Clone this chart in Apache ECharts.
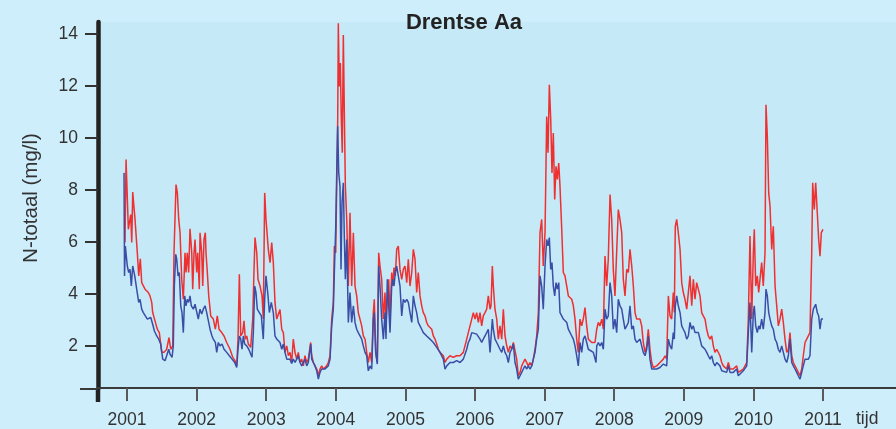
<!DOCTYPE html>
<html>
<head>
<meta charset="utf-8">
<script src="https://cdn.jsdelivr.net/npm/echarts@6.0.0/dist/echarts.min.js"></script>
<style>
  html, body { margin: 0; padding: 0; background: #ceeefb; }
  #chart { width: 896px; height: 429px; }
</style>
</head>
<body>
<div id="chart"></div>
<script>
// N-totaal (mg/l), Drentse Aa, time as decimal year
const yearTicks = [2001, 2002, 2003, 2004, 2005, 2006, 2007, 2008, 2009, 2010, 2011];
const valueTicks = [2, 4, 6, 8, 10, 12, 14];

// red series
const redYears = [
  2000.971, 2000.986, 2001.019, 2001.053, 2001.068, 2001.082, 2001.115, 2001.148, 2001.168, 2001.191,
  2001.211, 2001.234, 2001.259, 2001.306, 2001.330, 2001.355, 2001.369, 2001.402, 2001.435, 2001.464,
  2001.499, 2001.532, 2001.570, 2001.603, 2001.628, 2001.657, 2001.675, 2001.704, 2001.723, 2001.743,
  2001.762, 2001.786, 2001.809, 2001.833, 2001.848, 2001.866, 2001.886, 2001.905, 2001.930, 2001.944,
  2001.963, 2001.977, 2002.001, 2002.016, 2002.039, 2002.049, 2002.073, 2002.088, 2002.106, 2002.125,
  2002.135, 2002.154, 2002.174, 2002.203, 2002.240, 2002.269, 2002.297, 2002.322, 2002.361, 2002.394,
  2002.432, 2002.480, 2002.519, 2002.552, 2002.576, 2002.595, 2002.614, 2002.634, 2002.662, 2002.681,
  2002.700, 2002.720, 2002.743, 2002.777, 2002.806, 2002.825, 2002.839, 2002.864, 2002.882, 2002.911,
  2002.940, 2002.958, 2002.978, 2002.997, 2003.030, 2003.055, 2003.079, 2003.102, 2003.126, 2003.151,
  2003.198, 2003.223, 2003.246, 2003.270, 2003.295, 2003.318, 2003.342, 2003.366, 2003.389, 2003.414,
  2003.438, 2003.461, 2003.486, 2003.510, 2003.533, 2003.557, 2003.582, 2003.605, 2003.639, 2003.654,
  2003.677, 2003.701, 2003.726, 2003.749, 2003.773, 2003.797, 2003.820, 2003.845, 2003.869, 2003.892,
  2003.917, 2003.941, 2003.964, 2003.979, 2003.999, 2004.013, 2004.027, 2004.036, 2004.050, 2004.065,
  2004.079, 2004.093, 2004.108, 2004.122, 2004.137, 2004.157, 2004.180, 2004.204, 2004.228, 2004.252,
  2004.276, 2004.300, 2004.323, 2004.348, 2004.372, 2004.395, 2004.420, 2004.444, 2004.467, 2004.491,
  2004.516, 2004.539, 2004.553, 2004.573, 2004.596, 2004.616, 2004.635, 2004.659, 2004.683, 2004.707,
  2004.721, 2004.740, 2004.760, 2004.779, 2004.803, 2004.818, 2004.836, 2004.855, 2004.875, 2004.898,
  2004.922, 2004.947, 2004.970, 2004.994, 2005.019, 2005.042, 2005.066, 2005.091, 2005.114, 2005.138,
  2005.162, 2005.185, 2005.210, 2005.234, 2005.257, 2005.282, 2005.306, 2005.329, 2005.353, 2005.378,
  2005.401, 2005.425, 2005.450, 2005.473, 2005.497, 2005.522, 2005.545, 2005.569, 2005.594, 2005.641,
  2005.688, 2005.737, 2005.785, 2005.832, 2005.881, 2005.904, 2005.928, 2005.953, 2005.976, 2006.000,
  2006.024, 2006.048, 2006.072, 2006.096, 2006.119, 2006.144, 2006.168, 2006.191, 2006.216, 2006.230,
  2006.249, 2006.263, 2006.287, 2006.312, 2006.335, 2006.359, 2006.384, 2006.407, 2006.431, 2006.456,
  2006.479, 2006.503, 2006.527, 2006.551, 2006.575, 2006.599, 2006.622, 2006.647, 2006.671, 2006.694,
  2006.718, 2006.743, 2006.766, 2006.790, 2006.815, 2006.838, 2006.862, 2006.886, 2006.910, 2006.934,
  2006.958, 2006.981, 2007.006, 2007.030, 2007.049, 2007.068, 2007.088, 2007.106, 2007.125, 2007.145,
  2007.164, 2007.183, 2007.203, 2007.221, 2007.246, 2007.269, 2007.293, 2007.318, 2007.341, 2007.365,
  2007.390, 2007.413, 2007.437, 2007.461, 2007.484, 2007.509, 2007.533, 2007.556, 2007.580, 2007.605,
  2007.628, 2007.652, 2007.677, 2007.700, 2007.724, 2007.749, 2007.772, 2007.796, 2007.821, 2007.844,
  2007.868, 2007.892, 2007.915, 2007.940, 2007.964, 2007.987, 2008.011, 2008.036, 2008.059, 2008.083,
  2008.108, 2008.131, 2008.155, 2008.180, 2008.203, 2008.227, 2008.252, 2008.275, 2008.299, 2008.323,
  2008.371, 2008.395, 2008.418, 2008.443, 2008.467, 2008.490, 2008.514, 2008.539, 2008.562, 2008.611,
  2008.658, 2008.706, 2008.730, 2008.754, 2008.778, 2008.802, 2008.826, 2008.849, 2008.864, 2008.878,
  2008.898, 2008.921, 2008.946, 2008.970, 2008.993, 2009.017, 2009.042, 2009.065, 2009.089, 2009.114,
  2009.137, 2009.161, 2009.185, 2009.209, 2009.233, 2009.257, 2009.280, 2009.305, 2009.329, 2009.352,
  2009.377, 2009.401, 2009.424, 2009.448, 2009.473, 2009.496, 2009.520, 2009.545, 2009.568, 2009.616,
  2009.640, 2009.664, 2009.711, 2009.760, 2009.783, 2009.807, 2009.855, 2009.904, 2009.927, 2009.951,
  2009.976, 2009.999, 2010.013, 2010.033, 2010.056, 2010.076, 2010.095, 2010.119, 2010.142, 2010.167,
  2010.181, 2010.200, 2010.220, 2010.239, 2010.263, 2010.286, 2010.311, 2010.335, 2010.358, 2010.382,
  2010.407, 2010.430, 2010.454, 2010.479, 2010.502, 2010.526, 2010.551, 2010.574, 2010.598, 2010.622,
  2010.645, 2010.670, 2010.694, 2010.717, 2010.742, 2010.766, 2010.789, 2010.813, 2010.838, 2010.852,
  2010.875, 2010.895, 2010.918, 2010.938, 2010.957, 2010.976, 2011.000
];
const redValues = [
  5.97, 9.16, 6.48, 7.05, 5.97, 7.91, 6.86, 5.58, 4.69, 5.35,
  4.43, 4.43, 4.18, 4.05, 3.92, 3.67, 3.28, 2.96, 2.64, 2.51,
  1.75, 1.75, 1.87, 2.32, 1.87, 2.00, 5.58, 8.20, 7.88, 6.86,
  6.35, 4.56, 3.79, 5.58, 4.82, 5.58, 4.82, 6.50, 5.58, 4.18,
  5.58, 6.09, 4.82, 5.58, 4.18, 6.35, 5.58, 4.30, 6.09, 6.35,
  5.58, 4.82, 3.92, 3.15, 3.03, 2.64, 3.15, 2.64, 2.51, 2.38,
  2.13, 1.87, 1.56, 1.43, 1.23, 2.26, 4.75, 2.38, 2.51, 2.96,
  2.26, 2.38, 2.07, 1.94, 3.03, 4.94, 6.16, 5.58, 4.56, 4.30,
  3.92, 3.03, 7.88, 6.86, 5.71, 5.20, 5.97, 5.20, 3.67, 3.03,
  3.40, 2.64, 2.51, 1.75, 2.00, 1.62, 1.75, 1.36, 2.26, 1.75,
  1.49, 1.75, 1.36, 1.49, 1.23, 1.62, 1.36, 1.49, 2.13, 1.62,
  1.36, 1.23, 1.11, 0.85, 1.11, 1.23, 1.11, 1.17, 1.23, 1.36,
  1.62, 3.03, 3.67, 5.84, 5.58, 8.14, 10.69, 14.40, 11.97, 12.87,
  10.69, 9.42, 13.95, 11.08, 8.14, 6.86, 4.30, 7.12, 4.30, 6.35,
  4.30, 3.92, 3.28, 3.28, 2.77, 2.38, 2.26, 1.75, 1.36, 1.75,
  1.36, 3.28, 3.79, 1.75, 1.36, 5.58, 5.07, 4.56, 3.03, 4.05,
  2.77, 3.79, 4.56, 3.03, 4.82, 4.30, 5.01, 4.69, 5.71, 5.84,
  4.94, 4.56, 4.94, 5.07, 4.43, 5.33, 4.30, 4.82, 5.71, 5.33,
  4.05, 4.82, 3.92, 3.54, 3.28, 3.15, 2.90, 2.77, 2.77, 2.64,
  2.38, 2.26, 2.07, 1.87, 1.75, 1.75, 1.62, 1.36, 1.49, 1.62,
  1.56, 1.62, 1.62, 1.75, 2.26, 2.51, 2.51, 3.03, 3.28, 3.03,
  3.28, 2.90, 3.28, 2.77, 3.15, 3.28, 3.41, 3.92, 3.41, 3.54,
  5.07, 4.30, 3.41, 3.03, 2.26, 2.77, 2.26, 3.41, 2.38, 2.00,
  1.75, 2.00, 1.87, 2.13, 2.13, 1.49, 0.85, 0.98, 1.23, 1.36,
  1.49, 1.49, 1.23, 1.36, 1.23, 1.49, 1.87, 2.38, 3.28, 6.35,
  6.86, 5.07, 6.35, 10.82, 9.42, 12.04, 10.69, 8.65, 10.18, 7.63,
  8.90, 8.40, 9.03, 8.14, 6.48, 4.82, 4.69, 4.30, 3.92, 3.92,
  3.79, 3.54, 3.03, 2.26, 1.75, 3.03, 2.77, 3.03, 3.47, 2.77,
  2.26, 2.26, 2.13, 2.13, 2.13, 2.64, 2.90, 2.77, 3.03, 2.64,
  5.45, 4.30, 5.33, 7.82, 6.86, 4.94, 3.92, 3.92, 7.24, 6.86,
  6.35, 4.56, 3.92, 4.94, 4.82, 5.71, 5.07, 4.30, 3.28, 3.03,
  3.03, 2.77, 2.13, 1.75, 2.00, 2.64, 1.87, 1.36, 1.17, 1.23,
  1.36, 1.49, 1.62, 1.49, 3.92, 3.15, 3.03, 4.05, 3.28, 6.60,
  6.86, 6.35, 5.71, 4.43, 4.05, 3.79, 3.41, 3.41, 4.69, 3.54,
  4.56, 3.79, 4.43, 4.43, 3.92, 3.28, 3.15, 3.03, 2.64, 2.38,
  2.26, 2.38, 2.00, 1.75, 1.87, 1.87, 1.62, 1.36, 1.23, 1.11,
  1.36, 1.11, 1.11, 1.23, 0.98, 0.98, 1.11, 1.36, 3.03, 6.22,
  3.03, 5.58, 6.48, 4.30, 4.69, 4.05, 4.56, 5.20, 4.30, 5.58,
  11.27, 10.06, 7.88, 7.37, 5.71, 6.60, 4.30, 3.54, 2.77, 3.03,
  3.41, 2.90, 2.26, 1.75, 1.87, 2.51, 1.62, 1.36, 1.23, 1.11,
  0.98, 0.85, 1.11, 1.62, 2.13, 2.26, 2.26, 2.51, 5.58, 8.27,
  7.24, 8.27, 7.12, 6.09, 5.45, 6.35, 6.48
];

// blue series
const blueYears = [
  2000.957, 2000.964, 2000.976, 2001.004, 2001.024, 2001.043, 2001.062, 2001.082, 2001.111, 2001.139,
  2001.168, 2001.187, 2001.211, 2001.234, 2001.263, 2001.292, 2001.320, 2001.341, 2001.369, 2001.392,
  2001.427, 2001.455, 2001.484, 2001.513, 2001.546, 2001.570, 2001.599, 2001.618, 2001.647, 2001.665,
  2001.680, 2001.700, 2001.714, 2001.733, 2001.751, 2001.772, 2001.790, 2001.809, 2001.829, 2001.848,
  2001.866, 2001.886, 2001.905, 2001.924, 2001.953, 2001.977, 2002.001, 2002.024, 2002.049, 2002.073,
  2002.096, 2002.121, 2002.145, 2002.164, 2002.193, 2002.221, 2002.240, 2002.269, 2002.289, 2002.312,
  2002.336, 2002.365, 2002.394, 2002.432, 2002.470, 2002.509, 2002.547, 2002.576, 2002.595, 2002.614,
  2002.634, 2002.652, 2002.671, 2002.691, 2002.720, 2002.749, 2002.777, 2002.796, 2002.815, 2002.835,
  2002.853, 2002.872, 2002.901, 2002.930, 2002.958, 2002.978, 2002.997, 2003.026, 2003.045, 2003.073,
  2003.102, 2003.126, 2003.151, 2003.198, 2003.223, 2003.246, 2003.270, 2003.295, 2003.342, 2003.366,
  2003.389, 2003.414, 2003.438, 2003.461, 2003.486, 2003.510, 2003.533, 2003.557, 2003.582, 2003.605,
  2003.639, 2003.654, 2003.677, 2003.701, 2003.726, 2003.749, 2003.773, 2003.797, 2003.820, 2003.845,
  2003.869, 2003.892, 2003.917, 2003.941, 2003.964, 2003.979, 2003.999, 2004.013, 2004.027, 2004.042,
  2004.060, 2004.075, 2004.089, 2004.108, 2004.122, 2004.137, 2004.157, 2004.180, 2004.204, 2004.228,
  2004.252, 2004.276, 2004.300, 2004.323, 2004.348, 2004.372, 2004.395, 2004.420, 2004.444, 2004.467,
  2004.491, 2004.516, 2004.539, 2004.553, 2004.573, 2004.596, 2004.616, 2004.635, 2004.659, 2004.683,
  2004.707, 2004.721, 2004.740, 2004.760, 2004.779, 2004.803, 2004.818, 2004.836, 2004.855, 2004.875,
  2004.898, 2004.922, 2004.947, 2004.970, 2004.994, 2005.019, 2005.042, 2005.066, 2005.091, 2005.114,
  2005.138, 2005.162, 2005.185, 2005.210, 2005.234, 2005.257, 2005.306, 2005.353, 2005.401, 2005.450,
  2005.497, 2005.545, 2005.569, 2005.594, 2005.641, 2005.688, 2005.737, 2005.785, 2005.832, 2005.881,
  2005.904, 2005.928, 2005.953, 2005.976, 2006.024, 2006.048, 2006.072, 2006.096, 2006.119, 2006.144,
  2006.168, 2006.191, 2006.216, 2006.249, 2006.263, 2006.287, 2006.312, 2006.335, 2006.359, 2006.384,
  2006.407, 2006.431, 2006.456, 2006.479, 2006.503, 2006.527, 2006.551, 2006.575, 2006.599, 2006.622,
  2006.647, 2006.671, 2006.694, 2006.718, 2006.743, 2006.766, 2006.790, 2006.815, 2006.838, 2006.862,
  2006.886, 2006.910, 2006.934, 2006.958, 2006.981, 2007.006, 2007.030, 2007.049, 2007.068, 2007.088,
  2007.106, 2007.125, 2007.145, 2007.164, 2007.183, 2007.203, 2007.221, 2007.246, 2007.269, 2007.293,
  2007.318, 2007.341, 2007.365, 2007.390, 2007.413, 2007.437, 2007.461, 2007.484, 2007.509, 2007.533,
  2007.556, 2007.580, 2007.605, 2007.628, 2007.652, 2007.700, 2007.724, 2007.739, 2007.749, 2007.772,
  2007.796, 2007.821, 2007.844, 2007.868, 2007.892, 2007.915, 2007.940, 2007.964, 2007.987, 2008.011,
  2008.036, 2008.059, 2008.083, 2008.108, 2008.131, 2008.155, 2008.180, 2008.203, 2008.227, 2008.252,
  2008.275, 2008.299, 2008.323, 2008.371, 2008.395, 2008.418, 2008.443, 2008.467, 2008.490, 2008.514,
  2008.539, 2008.562, 2008.611, 2008.658, 2008.706, 2008.754, 2008.778, 2008.802, 2008.826, 2008.849,
  2008.864, 2008.878, 2008.898, 2008.921, 2008.946, 2008.970, 2008.993, 2009.017, 2009.042, 2009.065,
  2009.089, 2009.114, 2009.137, 2009.161, 2009.185, 2009.209, 2009.233, 2009.257, 2009.280, 2009.305,
  2009.329, 2009.352, 2009.377, 2009.401, 2009.424, 2009.448, 2009.473, 2009.520, 2009.545, 2009.568,
  2009.616, 2009.640, 2009.664, 2009.711, 2009.760, 2009.783, 2009.807, 2009.855, 2009.904, 2009.927,
  2009.951, 2009.976, 2009.999, 2010.013, 2010.033, 2010.056, 2010.076, 2010.095, 2010.119, 2010.142,
  2010.167, 2010.181, 2010.200, 2010.220, 2010.239, 2010.263, 2010.286, 2010.311, 2010.335, 2010.358,
  2010.382, 2010.407, 2010.430, 2010.454, 2010.479, 2010.502, 2010.526, 2010.551, 2010.574, 2010.598,
  2010.622, 2010.645, 2010.670, 2010.694, 2010.717, 2010.742, 2010.766, 2010.789, 2010.813, 2010.838,
  2010.861, 2010.895, 2010.918, 2010.938, 2010.957, 2010.976, 2011.000
];
const blueValues = [
  8.65, 4.69, 5.84, 5.07, 4.82, 4.94, 4.30, 5.07, 4.69, 4.18,
  3.67, 3.79, 3.41, 3.28, 3.15, 3.03, 2.96, 3.09, 2.83, 2.58,
  2.38, 2.26, 2.07, 1.49, 1.43, 1.62, 1.87, 1.68, 1.56, 2.00,
  4.30, 5.52, 5.33, 4.69, 4.82, 3.54, 3.28, 2.51, 3.92, 3.54,
  3.79, 3.67, 3.92, 3.54, 3.41, 3.60, 3.54, 3.03, 3.41, 3.22,
  3.41, 3.54, 3.28, 3.03, 2.64, 2.38, 2.26, 2.13, 1.75, 2.13,
  2.00, 2.07, 1.87, 1.75, 1.62, 1.49, 1.36, 1.17, 1.87, 2.38,
  2.26, 1.87, 2.38, 2.07, 2.00, 1.87, 1.81, 1.56, 2.51, 4.30,
  4.05, 3.41, 3.28, 3.15, 2.26, 3.79, 4.69, 3.92, 3.28, 3.67,
  3.28, 2.38, 2.26, 2.13, 1.87, 2.07, 1.75, 1.49, 1.49, 1.32,
  1.49, 1.36, 1.49, 1.62, 1.36, 1.23, 1.36, 1.49, 1.23, 1.36,
  2.07, 1.49, 1.36, 1.23, 1.04, 0.72, 0.98, 1.11, 1.04, 1.11,
  1.17, 1.23, 1.49, 2.77, 3.41, 4.82, 6.60, 8.65, 10.44, 8.65,
  8.14, 4.94, 7.50, 8.27, 6.22, 4.56, 6.09, 2.90, 4.05, 2.90,
  3.54, 2.90, 2.64, 2.51, 2.38, 2.26, 2.00, 1.75, 1.62, 1.04,
  1.23, 1.11, 3.03, 3.28, 1.75, 1.30, 5.07, 4.30, 3.03, 2.26,
  3.28, 2.26, 4.56, 3.54, 2.51, 4.30, 4.56, 4.30, 4.82, 5.07,
  5.14, 4.30, 3.15, 3.79, 3.67, 3.79, 3.67, 3.28, 2.90, 3.92,
  3.54, 3.28, 2.90, 2.77, 2.64, 2.51, 2.38, 2.26, 2.13, 1.94,
  1.75, 1.49, 1.11, 1.23, 1.36, 1.36, 1.43, 1.36, 1.49, 1.87,
  2.13, 2.26, 2.51, 2.45, 2.45, 2.38, 2.26, 2.13, 2.26, 2.38,
  2.51, 2.64, 1.75, 3.03, 2.64, 2.26, 2.13, 2.07, 1.87, 1.75,
  2.00, 1.75, 1.62, 1.36, 1.75, 1.87, 2.07, 1.36, 1.11, 0.72,
  0.85, 0.98, 1.11, 1.23, 1.11, 1.23, 1.11, 1.23, 1.49, 1.75,
  2.26, 2.64, 4.69, 4.30, 3.41, 5.07, 6.09, 5.84, 6.16, 4.94,
  5.20, 4.30, 3.92, 4.43, 4.18, 4.43, 3.28, 3.15, 3.03, 3.03,
  2.90, 2.64, 2.64, 2.38, 2.26, 2.00, 1.62, 1.23, 2.13, 1.75,
  2.26, 2.38, 2.13, 1.87, 1.87, 1.75, 1.75, 1.36, 2.00, 2.13,
  2.00, 2.13, 1.87, 3.41, 3.03, 3.15, 4.43, 3.92, 2.64, 3.03,
  2.51, 3.79, 3.54, 3.41, 3.03, 2.64, 2.77, 2.90, 3.54, 2.64,
  2.77, 2.26, 2.13, 2.26, 2.00, 1.75, 1.62, 1.87, 2.38, 1.49,
  1.11, 1.04, 1.11, 1.17, 1.30, 1.23, 2.26, 2.00, 1.87, 2.51,
  2.26, 3.54, 3.92, 3.54, 3.28, 2.77, 2.64, 2.51, 2.26, 2.38,
  2.90, 2.64, 2.77, 2.51, 2.58, 2.51, 2.26, 2.00, 2.00, 1.87,
  1.75, 1.62, 1.49, 1.62, 1.36, 1.23, 1.36, 1.23, 1.04, 1.11,
  0.98, 1.23, 0.98, 0.98, 1.11, 0.85, 0.91, 1.04, 1.23, 2.51,
  3.67, 1.75, 3.28, 3.54, 2.77, 2.51, 2.77, 2.64, 3.03, 2.64,
  3.28, 4.18, 3.92, 3.28, 3.03, 2.77, 2.64, 2.26, 2.13, 1.87,
  1.75, 2.00, 1.75, 1.49, 1.36, 1.62, 2.26, 1.36, 1.23, 1.11,
  0.98, 0.85, 0.72, 0.98, 1.23, 1.49, 1.56, 1.49, 1.62, 3.03,
  3.41, 3.60, 3.28, 3.15, 2.64, 3.03, 3.03
];

const zip = (xs, ys) => xs.map((x, i) => [x, ys[i]]);

const chart = echarts.init(document.getElementById('chart'));

const labelFont = { fontFamily: 'Liberation Sans', fontSize: 17.5, color: '#333333' };

chart.setOption({
  backgroundColor: '#ceeefb',
  animation: false,
  grid: {
    left: 98, right: 0, top: 22, bottom: 40,
    show: true, backgroundColor: '#c6e9f8', borderWidth: 0
  },
  xAxis: {
    type: 'value',
    min: 2000.583,
    max: 2012.049,
    splitLine: { show: false },
    axisLine: { show: true, lineStyle: { color: '#3a3a3a', width: 2 } },
    axisTick: { show: true, customValues: yearTicks, length: 13, lineStyle: { color: '#5a5a5a', width: 2 } },
    axisLabel: Object.assign({ customValues: yearTicks, margin: 23, formatter: v => String(Math.round(v)) }, labelFont)
  },
  yAxis: {
    type: 'value',
    min: 0.38,
    max: 14.45,
    splitLine: { show: false },
    axisLine: { show: true, lineStyle: { color: '#222222', width: 4.5 } },
    axisTick: { show: true, customValues: valueTicks, length: 13, lineStyle: { color: '#333333', width: 2 } },
    axisLabel: Object.assign({ customValues: valueTicks, margin: 20, padding: [0, 0, 14, 0] }, labelFont)
  },
  graphic: [
    // axis line stubs beyond the plotting area
    { type: 'rect', left: 95.75, top: 389, shape: { width: 4.5, height: 13 }, style: { fill: '#222222' }, z: 10 },
    { type: 'rect', left: 80, top: 388, shape: { width: 18, height: 2 }, style: { fill: '#3a3a3a' }, z: 10 },
    {
      type: 'text', x: 464, y: 23, z: 10,
      style: { text: 'Drentse Aa', fontFamily: 'Liberation Sans', fontWeight: 'bold', fontSize: 22,
               fill: '#222222', align: 'center', verticalAlign: 'middle' }
    },
    {
      type: 'text', x: 31, y: 198, rotation: Math.PI / 2, z: 10,
      style: { text: 'N-totaal (mg/l)', fontFamily: 'Liberation Sans', fontSize: 20.5, fill: '#333333',
               align: 'center', verticalAlign: 'middle' }
    },
    {
      type: 'text', x: 856, y: 419, z: 10,
      style: { text: 'tijd', fontFamily: 'Liberation Sans', fontSize: 17.5, fill: '#333333',
               align: 'left', verticalAlign: 'middle' }
    }
  ],
  series: [
    {
      name: 'rood', type: 'line', data: zip(redYears, redValues),
      showSymbol: false, z: 2,
      lineStyle: { color: '#ee3030', width: 1.5 }
    },
    {
      name: 'blauw', type: 'line', data: zip(blueYears, blueValues),
      showSymbol: false, z: 3,
      lineStyle: { color: '#3a4ea6', width: 1.5 }
    }
  ]
});
</script>
</body>
</html>
